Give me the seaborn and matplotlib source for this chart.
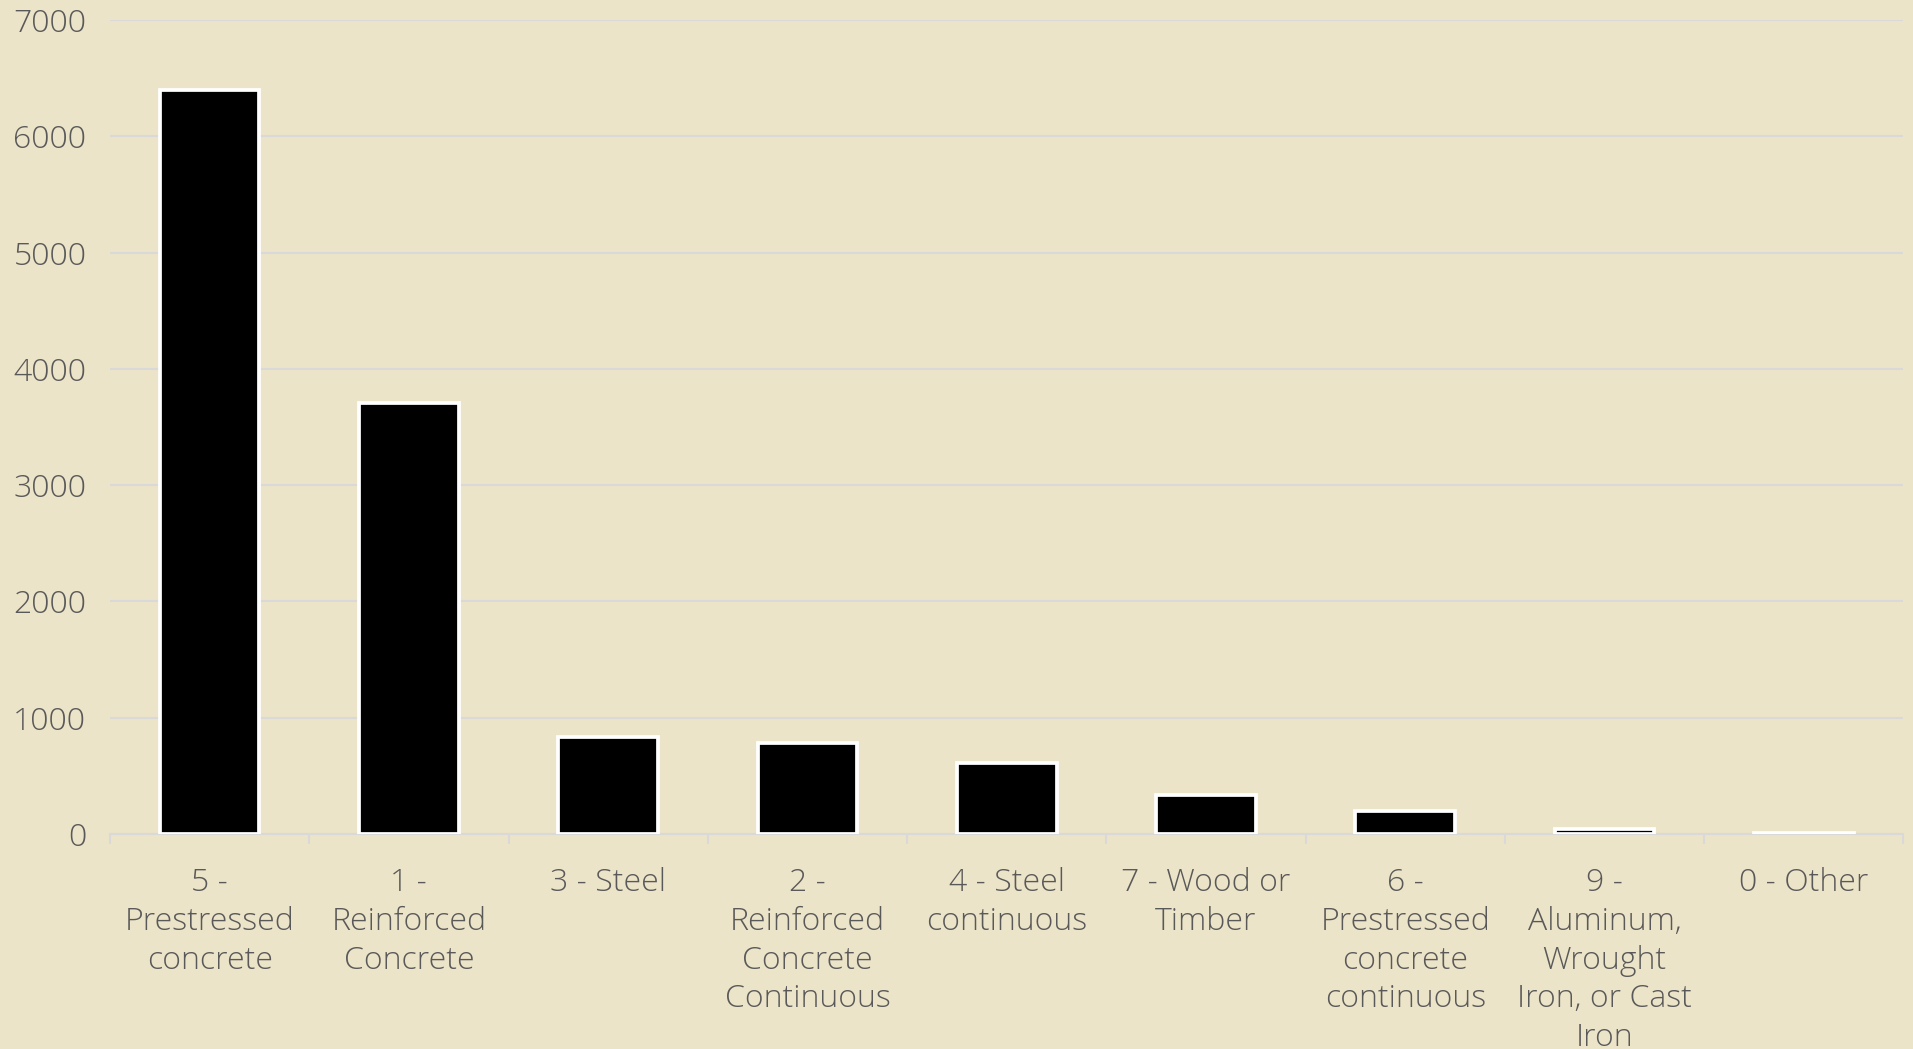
import matplotlib
matplotlib.use("Agg")
import matplotlib.pyplot as plt
from matplotlib.ticker import FixedLocator, NullFormatter
import seaborn as sns
import pandas as pd

# Bridge counts by main structure material / design
categories = [
    "5 -\nPrestressed\nconcrete",
    "1 -\nReinforced\nConcrete",
    "3 - Steel",
    "2 -\nReinforced\nConcrete\nContinuous",
    "4 - Steel\ncontinuous",
    "7 - Wood or\nTimber",
    "6 -\nPrestressed\nconcrete\ncontinuous",
    "9 -\nAluminum,\nWrought\nIron, or Cast\nIron",
    "0 - Other",
]
counts = [6400, 3703, 834, 778, 610, 335, 198, 43, 6]
y_ticks = [0, 1000, 2000, 3000, 4000, 5000, 6000, 7000]

bg = "#ECE4C8"
text_col = "#595959"
grid_col = "#D9D9D9"

sns.set_theme(style="white")
plt.rcParams["font.family"] = ["Open Sans", "DejaVu Sans"]

df = pd.DataFrame({"material": categories, "count": counts})

fig = plt.figure(figsize=(19.13, 10.49), dpi=100, facecolor=bg)
ax = fig.add_axes([0.0575, 0.205, 0.9375, 0.776])
ax.set_facecolor(bg)

sns.barplot(data=df, x="material", y="count", color="black", saturation=1,
            edgecolor="white", linewidth=2.7, width=0.5, ax=ax, zorder=3)

ax.set_ylim(0, 7000)
ax.set_xlim(-0.5, len(categories) - 0.5)
ax.set_yticks(y_ticks)
ax.set_yticklabels([str(t) for t in y_ticks])
ax.yaxis.grid(True, color=grid_col, linewidth=1.5, zorder=0)
ax.set_axisbelow(True)

for side in ["top", "right", "left"]:
    ax.spines[side].set_visible(False)
ax.spines["bottom"].set_color(grid_col)
ax.spines["bottom"].set_linewidth(1.5)

# category boundary ticks on the x axis
ax.xaxis.set_minor_locator(FixedLocator([i - 0.5 for i in range(len(categories) + 1)]))
ax.xaxis.set_minor_formatter(NullFormatter())
ax.tick_params(axis="x", which="minor", length=7, width=1.5, color=grid_col, bottom=True)
ax.tick_params(axis="x", which="major", length=0, pad=24, labelsize=23, labelcolor=text_col)
ax.tick_params(axis="y", length=0, pad=17, labelsize=23, labelcolor=text_col)
for lbl in ax.get_xticklabels():
    lbl.set_linespacing(1.28)
    lbl.set_ha("center")
    lbl.set_fontweight("light")
for lbl in ax.get_yticklabels():
    lbl.set_fontweight("light")

ax.set_xlabel("")
ax.set_ylabel("")

fig.savefig("out.png", dpi=100, facecolor=bg)
